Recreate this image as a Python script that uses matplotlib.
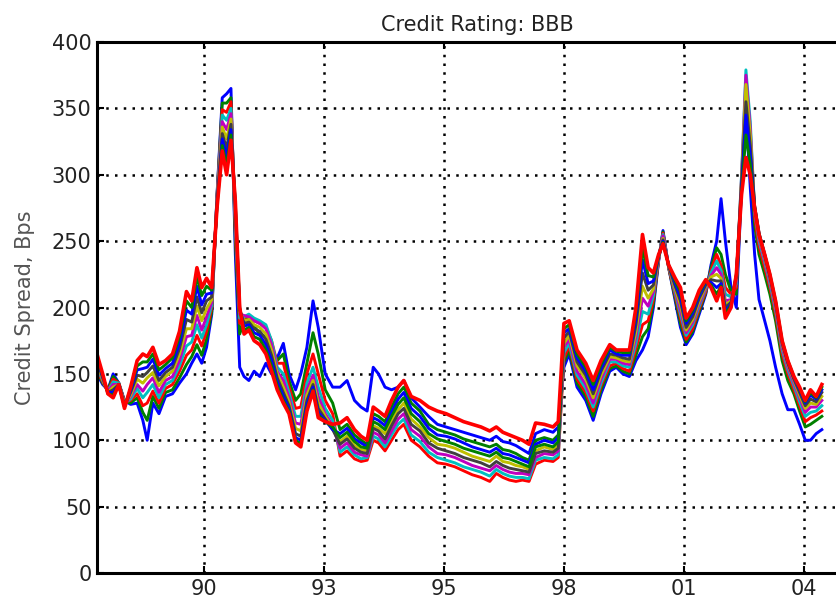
import numpy as np
import matplotlib.pyplot as plt

# sample dates (decimal years) shared by every curve
t = [1987.55, 1987.68, 1987.80, 1987.92, 1988.05, 1988.18, 1988.32, 1988.47, 1988.60, 1988.70,
     1988.83, 1988.97, 1989.12, 1989.28, 1989.44, 1989.60, 1989.72, 1989.84, 1989.95, 1990.06,
     1990.18, 1990.30, 1990.42, 1990.52, 1990.62, 1990.72, 1990.82, 1990.92, 1991.03, 1991.15,
     1991.28, 1991.42, 1991.55, 1991.68, 1991.82, 1991.95, 1992.10, 1992.22, 1992.36, 1992.50,
     1992.62, 1992.78, 1992.95, 1993.12, 1993.28, 1993.45, 1993.60, 1993.74, 1993.88, 1994.00,
     1994.15, 1994.30, 1994.45, 1994.58, 1994.75, 1994.95, 1995.15, 1995.35, 1995.55, 1995.75,
     1995.95, 1996.15, 1996.35, 1996.55, 1996.70, 1996.85, 1997.00, 1997.15, 1997.30, 1997.45,
     1997.60, 1997.80, 1998.00, 1998.12, 1998.25, 1998.37, 1998.55, 1998.75, 1998.92, 1999.10,
     1999.30, 1999.45, 1999.60, 1999.75, 1999.90, 2000.05, 2000.18, 2000.30, 2000.42, 2000.52,
     2000.65, 2000.80, 2000.92, 2001.05, 2001.20, 2001.35, 2001.50, 2001.62, 2001.75, 2001.85,
     2001.95, 2002.08, 2002.20, 2002.32, 2002.42, 2002.52, 2002.62, 2002.72, 2002.85, 2002.97,
     2003.10, 2003.25, 2003.38, 2003.52, 2003.65, 2003.78, 2003.90, 2004.03, 2004.16]

# credit spreads (bps), one list per curve
s1 = [150, 142, 138, 150, 143, 130, 127, 128, 115, 100,
      128, 120, 133, 135, 143, 150, 158, 165, 158, 170,
      195, 285, 358, 361, 365, 240, 155, 148, 145, 152,
      148, 158, 150, 162, 173, 150, 138, 150, 170, 205,
      185, 150, 140, 140, 145, 130, 125, 122, 155, 150,
      140, 138, 140, 145, 132, 125, 118, 112, 110, 108,
      106, 104, 102, 100, 103, 99, 98, 96, 93, 90,
      105, 108, 106, 110, 155, 165, 140, 130, 115, 135,
      152, 155, 150, 148, 160, 168, 178, 200, 235, 258,
      230, 205, 185, 172, 180, 195, 210, 232, 250, 282,
      250, 215, 200, 290, 349, 290, 240, 206, 190, 175,
      155, 135, 123, 123, 112, 100, 100, 105, 108]
s2 = [152, 143, 138, 148, 143, 129, 128, 132, 121, 115,
      133, 124, 136, 138, 147, 157, 163, 172, 164, 176,
      197, 284, 354, 354, 358, 250, 180, 190, 192, 186,
      180, 178, 170, 160, 165, 145, 130, 135, 158, 181,
      165, 138, 128, 108, 112, 104, 100, 97, 120, 118,
      114, 125, 135, 140, 128, 122, 112, 108, 106, 104,
      101, 99, 97, 95, 97, 93, 92, 90, 87, 85,
      100, 102, 100, 104, 159, 168, 143, 133, 118, 138,
      154, 156, 152, 150, 164, 178, 184, 203, 236, 257,
      230, 207, 188, 174, 182, 197, 211, 230, 245, 240,
      225, 212, 210, 292, 355, 315, 262, 240, 225, 210,
      190, 160, 145, 135, 122, 110, 112, 115, 118]
s3 = [153, 144, 137, 146, 143, 129, 130, 135, 126, 128,
      137, 128, 139, 142, 152, 164, 168, 179, 171, 182,
      200, 283, 349, 347, 355, 258, 188, 192, 194, 190,
      188, 185, 175, 158, 158, 140, 124, 125, 150, 165,
      150, 130, 120, 88, 92, 86, 84, 85, 100, 98,
      92, 100, 108, 112, 100, 95, 88, 83, 82, 80,
      77, 74, 72, 69, 75, 72, 70, 69, 70, 69,
      82, 85, 84, 87, 162, 171, 146, 136, 122, 141,
      156, 158, 154, 152, 169, 187, 190, 206, 236, 256,
      230, 209, 192, 176, 184, 199, 212, 228, 240, 232,
      215, 210, 215, 295, 362, 325, 268, 246, 230, 215,
      195, 165, 150, 138, 126, 114, 117, 119, 122]
s4 = [155, 145, 137, 144, 143, 128, 131, 139, 132, 136,
      142, 132, 142, 145, 156, 171, 174, 187, 177, 187,
      202, 282, 345, 341, 350, 264, 192, 193, 195, 192,
      190, 187, 175, 155, 150, 136, 118, 118, 143, 155,
      140, 124, 115, 91, 95, 89, 86, 87, 103, 101,
      95, 104, 112, 116, 104, 99, 91, 87, 85, 83,
      80, 78, 76, 73, 78, 75, 73, 72, 72, 71,
      85, 87, 86, 89, 166, 173, 149, 139, 125, 143,
      159, 159, 156, 155, 173, 197, 195, 209, 237, 255,
      231, 211, 195, 179, 187, 201, 214, 226, 235, 228,
      210, 208, 218, 300, 379, 340, 272, 250, 234, 218,
      198, 168, 153, 141, 129, 118, 121, 122, 126]
s5 = [157, 146, 137, 142, 142, 127, 133, 142, 137, 142,
      147, 136, 145, 148, 160, 178, 179, 194, 183, 193,
      204, 281, 340, 334, 346, 268, 195, 194, 193, 190,
      188, 184, 172, 152, 145, 132, 113, 112, 138, 149,
      133, 120, 111, 94, 98, 91, 89, 88, 106, 104,
      98, 107, 116, 120, 108, 103, 95, 90, 89, 87,
      84, 81, 79, 77, 81, 78, 76, 75, 75, 74,
      87, 90, 89, 92, 170, 176, 152, 142, 128, 146,
      161, 161, 158, 157, 178, 207, 201, 212, 237, 254,
      231, 213, 198, 181, 189, 203, 215, 224, 230, 225,
      205, 206, 220, 298, 375, 335, 274, 252, 236, 220,
      200, 170, 155, 143, 132, 121, 125, 125, 130]
s6 = [158, 146, 136, 140, 142, 127, 134, 146, 143, 147,
      151, 141, 148, 152, 165, 184, 184, 201, 190, 199,
      206, 279, 336, 327, 342, 272, 197, 190, 191, 187,
      185, 180, 168, 150, 140, 129, 109, 107, 134, 145,
      128, 118, 109, 99, 103, 96, 93, 92, 111, 109,
      105, 114, 123, 128, 116, 110, 102, 97, 96, 94,
      91, 88, 86, 84, 88, 84, 83, 81, 80, 78,
      92, 95, 93, 97, 173, 179, 156, 146, 132, 149,
      163, 162, 160, 159, 182, 216, 207, 214, 238, 252,
      231, 214, 202, 183, 191, 205, 216, 223, 225, 222,
      202, 205, 222, 296, 368, 330, 275, 254, 238, 222,
      202, 172, 157, 145, 134, 124, 128, 127, 133]
s7 = [160, 147, 136, 138, 142, 126, 136, 149, 148, 151,
      156, 145, 151, 155, 169, 191, 189, 208, 196, 205,
      208, 278, 331, 320, 338, 275, 198, 188, 189, 184,
      182, 176, 164, 147, 136, 126, 105, 103, 130, 142,
      124, 116, 108, 97, 101, 94, 91, 90, 109, 107,
      101, 111, 120, 124, 112, 107, 98, 94, 92, 90,
      87, 85, 83, 80, 84, 81, 79, 78, 77, 76,
      90, 92, 91, 94, 177, 182, 159, 149, 135, 152,
      165, 164, 162, 161, 187, 226, 213, 217, 238, 251,
      231, 216, 205, 185, 193, 207, 217, 221, 220, 220,
      200, 204, 223, 293, 355, 322, 276, 255, 239, 223,
      203, 173, 158, 146, 136, 126, 131, 129, 136]
s8 = [162, 148, 136, 136, 142, 125, 137, 153, 154, 155,
      161, 149, 154, 158, 173, 198, 195, 216, 202, 210,
      211, 277, 327, 314, 334, 277, 199, 186, 187, 181,
      179, 172, 160, 144, 133, 124, 102, 100, 127, 140,
      121, 115, 108, 105, 109, 101, 98, 95, 117, 115,
      111, 121, 131, 136, 124, 118, 109, 104, 103, 101,
      98, 95, 93, 91, 94, 90, 89, 87, 85, 83,
      97, 100, 98, 102, 181, 184, 162, 152, 138, 154,
      168, 165, 164, 164, 191, 236, 218, 220, 239, 250,
      232, 218, 208, 188, 196, 209, 219, 219, 215, 218,
      197, 203, 224, 290, 345, 315, 276, 256, 240, 224,
      204, 174, 159, 147, 138, 128, 134, 131, 138]
s9 = [163, 149, 135, 134, 142, 125, 139, 156, 159, 159,
      165, 153, 157, 162, 178, 205, 200, 223, 209, 216,
      213, 276, 322, 307, 330, 279, 200, 183, 185, 178,
      176, 168, 156, 141, 130, 122, 100, 97, 124, 138,
      119, 114, 110, 102, 106, 99, 95, 94, 114, 112,
      108, 118, 127, 132, 120, 114, 105, 101, 99, 97,
      94, 92, 90, 88, 91, 87, 86, 84, 82, 80,
      95, 97, 95, 99, 184, 187, 165, 155, 142, 157,
      170, 167, 166, 166, 196, 245, 224, 223, 239, 249,
      232, 220, 212, 190, 198, 211, 220, 217, 210, 216,
      195, 202, 225, 287, 330, 308, 276, 256, 240, 225,
      205, 175, 160, 148, 139, 129, 136, 132, 140]
s10 = [165, 150, 135, 132, 142, 124, 140, 160, 165, 163,
       170, 157, 160, 165, 182, 212, 205, 230, 215, 222,
       215, 275, 318, 300, 326, 280, 200, 180, 183, 175,
       172, 165, 152, 138, 128, 120, 98, 95, 122, 137,
       117, 114, 112, 113, 117, 108, 103, 100, 125, 122,
       118, 130, 140, 145, 133, 130, 125, 122, 120, 117,
       114, 112, 110, 107, 110, 106, 104, 102, 100, 97,
       113, 112, 110, 114, 188, 190, 168, 158, 145, 160,
       172, 168, 168, 168, 200, 255, 230, 226, 240, 248,
       232, 222, 215, 192, 200, 213, 221, 215, 205, 215,
       192, 200, 225, 285, 313, 300, 275, 255, 240, 225,
       205, 175, 160, 148, 140, 130, 138, 133, 142]

series = [s1, s2, s3, s4, s5, s6, s7, s8, s9, s10]

tick_pos = [1990.0, 1992.75, 1995.5, 1998.25, 2001.0, 2003.75]
tick_labels = ['90', '93', '95', '98', '01', '04']

# classic matlab colour order
colors = ['#0000ff', '#008000', '#ff0000', '#00bfbf', '#bf00bf', '#bfbf00', '#404040']

fig = plt.figure(figsize=(8.36, 5.99), dpi=100)
# axes run off the right edge of the figure
ax = fig.add_axes([97/836, 26/599, 761.5/836, 531/599])

for i, s in enumerate(series):
    lw = 2.6 if i == len(series) - 1 else 2.1
    ax.plot(t, s, color=colors[i % len(colors)], linewidth=lw)

ax.set_xlim(1987.55, 2005.0)
ax.set_ylim(0, 400)
ax.set_xticks(tick_pos)
ax.set_xticklabels(tick_labels)
ax.set_yticks(np.arange(0, 401, 50))

ax.grid(True, color='k', linestyle=(0, (1, 2.5)), linewidth=1.8)
ax.tick_params(direction='in', length=5, width=1.5, labelsize=15,
               labelcolor='#222222', pad=4, top=True, right=True)
for sp in ax.spines.values():
    sp.set_linewidth(2.2)

ax.set_title('Credit Rating: BBB', fontsize=15, color='#222222', pad=8)
ax.set_ylabel('Credit Spread, Bps', fontsize=15, color='#555555', labelpad=12)

fig.savefig('out.png', dpi=100)
